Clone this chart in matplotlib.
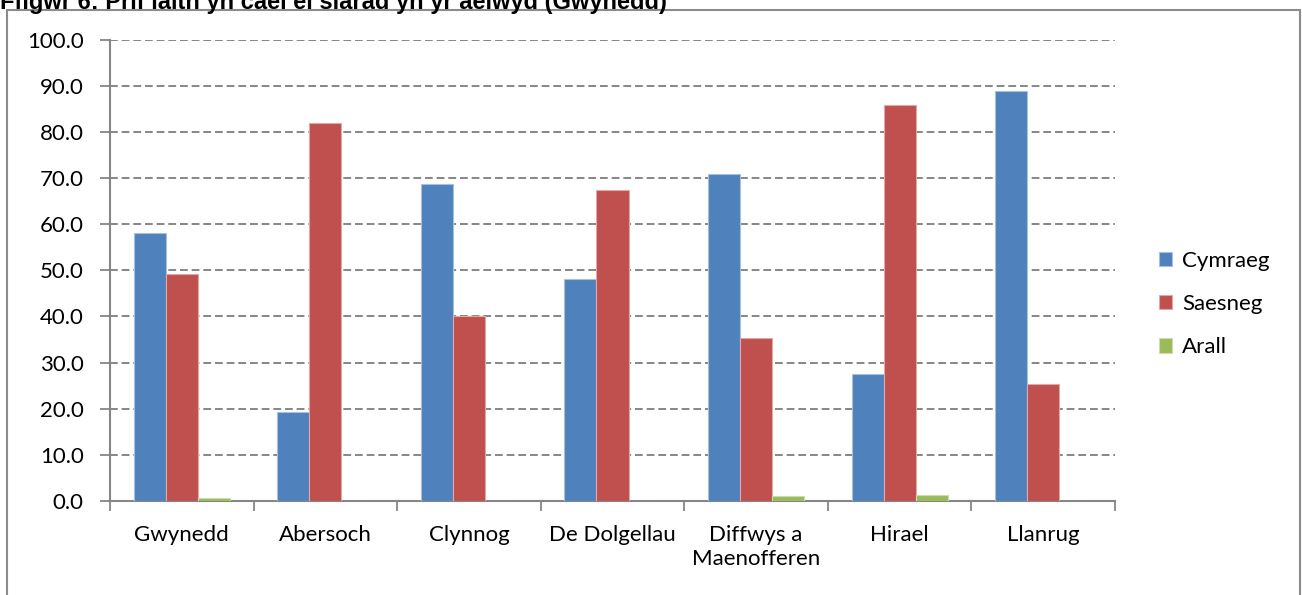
import matplotlib.pyplot as plt
import matplotlib.ticker as ticker
import numpy as np
from matplotlib.patches import Rectangle

categories = ['Gwynedd', 'Abersoch', 'Clynnog', 'De Dolgellau', 'Diffwys a\nMaenofferen', 'Hirael', 'Llanrug']
cymraeg = [58.1, 19.3, 68.7, 48.2, 70.9, 27.5, 88.9]
saesneg = [49.2, 82.0, 40.0, 67.3, 35.4, 85.7, 25.3]
arall = [0.6, 0.0, 0.0, 0.0, 1.0, 1.2, 0.0]
series_names = ['Cymraeg', 'Saesneg', 'Arall']
colors = ['#4F81BD', '#C0504D', '#9BBB59']
edges = ['#A7C0DE', '#E0A9A7', '#CDDDAC']

plt.rcParams['font.family'] = ['Lato', 'DejaVu Sans']

fig = plt.figure(figsize=(13.02, 5.95), dpi=100)
W, H = 1302, 595

# outer chart frame
fig.patches.append(Rectangle((7 / W, -0.01), (1300 - 7) / W, 1 - 10 / H + 0.01,
                             transform=fig.transFigure, fill=False,
                             edgecolor='#8C8C8C', linewidth=1.5))

# title, partly clipped at the top as in the source
fig.text(0.0, 1 - 9 / H, 'Ffigwr 6: Prif iaith yn cael ei siarad yn yr aelwyd (Gwynedd)',
         fontsize=17, fontweight='bold', family=['Liberation Sans', 'DejaVu Sans'],
         ha='left', va='baseline')

ax = fig.add_axes([110 / W, 1 - 501 / H, (1115 - 110) / W, (501 - 39.5) / H])

x = np.arange(len(categories))
bw = 0.223
for i, (vals, name) in enumerate(zip([cymraeg, saesneg, arall], series_names)):
    ax.bar(x + (i - 1) * bw, vals, bw, color=colors[i], edgecolor=edges[i],
           linewidth=0.8, label=name, zorder=3)

ax.set_xlim(-0.5, len(categories) - 0.5)
ax.set_ylim(0, 100)
ax.yaxis.set_major_locator(ticker.MultipleLocator(10))
ax.yaxis.set_major_formatter(ticker.FormatStrFormatter('%.1f'))
ax.grid(axis='y', color='#868686', linestyle=(0, (4, 2)), linewidth=1.4, zorder=1)

ax.set_xticks(x)
ax.set_xticklabels(categories, fontsize=16, linespacing=1.3)
ax.set_xticks(np.arange(-0.5, len(categories)), minor=True)
ax.tick_params(axis='x', which='major', length=0, pad=17)
ax.tick_params(axis='x', which='minor', length=7, width=1.3, color='#868686')
ax.tick_params(axis='y', length=7, width=1.3, color='#868686', labelsize=16, pad=12)

for s in ['top', 'right']:
    ax.spines[s].set_visible(False)
for s in ['left', 'bottom']:
    ax.spines[s].set_color('#868686')
    ax.spines[s].set_linewidth(1.5)

leg = fig.legend(*ax.get_legend_handles_labels(), loc='center left',
                 bbox_to_anchor=(1150 / W, 1 - 304 / H), frameon=False,
                 fontsize=16, handlelength=0.6, handleheight=0.6,
                 handletextpad=0.45, labelspacing=1.05, borderaxespad=0)

plt.savefig('out.png', dpi=100, facecolor='white')
